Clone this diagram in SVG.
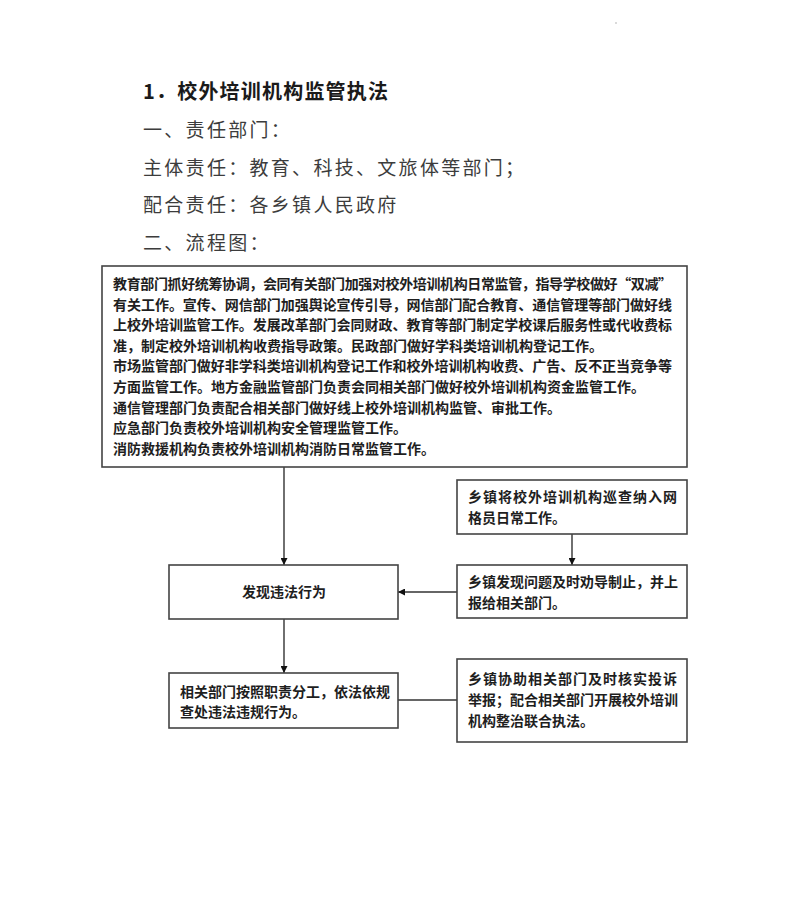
<svg xmlns="http://www.w3.org/2000/svg" width="788" height="902" viewBox="0 0 788 902">
<defs>
<style>
.h{font-family:"Noto Sans CJK SC","Noto Sans",sans-serif;font-size:19px;fill:#3c3c3c;letter-spacing:2.3px}
.t{font-family:"Noto Sans CJK SC","Noto Sans",sans-serif;font-size:20px;font-weight:bold;fill:#1a1a1a;letter-spacing:1.2px}
.b{font-family:"Noto Sans CJK SC","Noto Sans",sans-serif;font-size:14px;font-weight:bold;fill:#1e1e1e}
.box{fill:#fff;stroke:#444;stroke-width:1.6}
.ln{fill:none;stroke:#333;stroke-width:1.4}
</style>
<marker id="ah" viewBox="0 0 10 10" refX="10" refY="5" markerWidth="7" markerHeight="7" orient="auto" markerUnits="userSpaceOnUse">
<path d="M0,0 L10,5 L0,10 z" fill="#111"/>
</marker>
</defs>
<rect width="788" height="902" fill="#fff"/>
<circle cx="616" cy="23" r="0.7" fill="#999"/>
<g id="headings">
<text class="t" x="143" y="99">1．校外培训机构监管执法</text>
<text class="h" x="143" y="137">一、责任部门：</text>
<text class="h" x="143" y="175">主体责任：教育、科技、文旅体等部门；</text>
<text class="h" x="143" y="212">配合责任：各乡镇人民政府</text>
<text class="h" x="143" y="250">二、流程图：</text>
</g>
<g id="connectors">
<line class="ln" x1="284" y1="467" x2="284" y2="565" marker-end="url(#ah)"/>
<line class="ln" x1="572" y1="534" x2="572" y2="565" marker-end="url(#ah)"/>
<line class="ln" x1="457" y1="592" x2="398" y2="592" marker-end="url(#ah)"/>
<line class="ln" x1="284" y1="619" x2="284" y2="673" marker-end="url(#ah)"/>
<line class="ln" x1="398" y1="700" x2="457" y2="700"/>
</g>
<g id="node-duties">
<rect class="box" x="102" y="266" width="585" height="201"/>
<text class="b" x="113" y="289" textLength="559" lengthAdjust="spacing">教育部门抓好统筹协调，会同有关部门加强对校外培训机构日常监管，指导学校做好“双减”</text>
<text class="b" x="113" y="309.6" textLength="559" lengthAdjust="spacing">有关工作。宣传、网信部门加强舆论宣传引导，网信部门配合教育、通信管理等部门做好线</text>
<text class="b" x="113" y="330.2" textLength="559" lengthAdjust="spacing">上校外培训监管工作。发展改革部门会同财政、教育等部门制定学校课后服务性或代收费标</text>
<text class="b" x="113" y="350.8">准，制定校外培训机构收费指导政策。民政部门做好学科类培训机构登记工作。</text>
<text class="b" x="113" y="371.4" textLength="559" lengthAdjust="spacing">市场监管部门做好非学科类培训机构登记工作和校外培训机构收费、广告、反不正当竞争等</text>
<text class="b" x="113" y="392">方面监管工作。地方金融监管部门负责会同相关部门做好校外培训机构资金监管工作。</text>
<text class="b" x="113" y="412.6">通信管理部门负责配合相关部门做好线上校外培训机构监管、审批工作。</text>
<text class="b" x="113" y="433.2">应急部门负责校外培训机构安全管理监管工作。</text>
<text class="b" x="113" y="453.8">消防救援机构负责校外培训机构消防日常监管工作。</text>
</g>
<g id="node-patrol">
<rect class="box" x="457" y="480" width="230" height="54"/>
<text class="b" x="468" y="502" textLength="209" lengthAdjust="spacing">乡镇将校外培训机构巡查纳入网</text>
<text class="b" x="468" y="523">格员日常工作。</text>
</g>
<g id="node-report">
<rect class="box" x="457" y="565" width="230" height="53"/>
<text class="b" x="468" y="587" textLength="210" lengthAdjust="spacing">乡镇发现问题及时劝导制止，并上</text>
<text class="b" x="468" y="608">报给相关部门。</text>
</g>
<g id="node-discover">
<rect class="box" x="169" y="565" width="229" height="54"/>
<text class="b" x="284" y="597" text-anchor="middle">发现违法行为</text>
</g>
<g id="node-handle">
<rect class="box" x="169" y="673" width="229" height="55"/>
<text class="b" x="180" y="697" textLength="210" lengthAdjust="spacing">相关部门按照职责分工，依法依规</text>
<text class="b" x="180" y="717">查处违法违规行为。</text>
</g>
<g id="node-assist">
<rect class="box" x="457" y="659" width="230" height="83"/>
<text class="b" x="468" y="684" textLength="209" lengthAdjust="spacing">乡镇协助相关部门及时核实投诉</text>
<text class="b" x="468" y="705" textLength="210" lengthAdjust="spacing">举报；配合相关部门开展校外培训</text>
<text class="b" x="468" y="726">机构整治联合执法。</text>
</g>
</svg>
